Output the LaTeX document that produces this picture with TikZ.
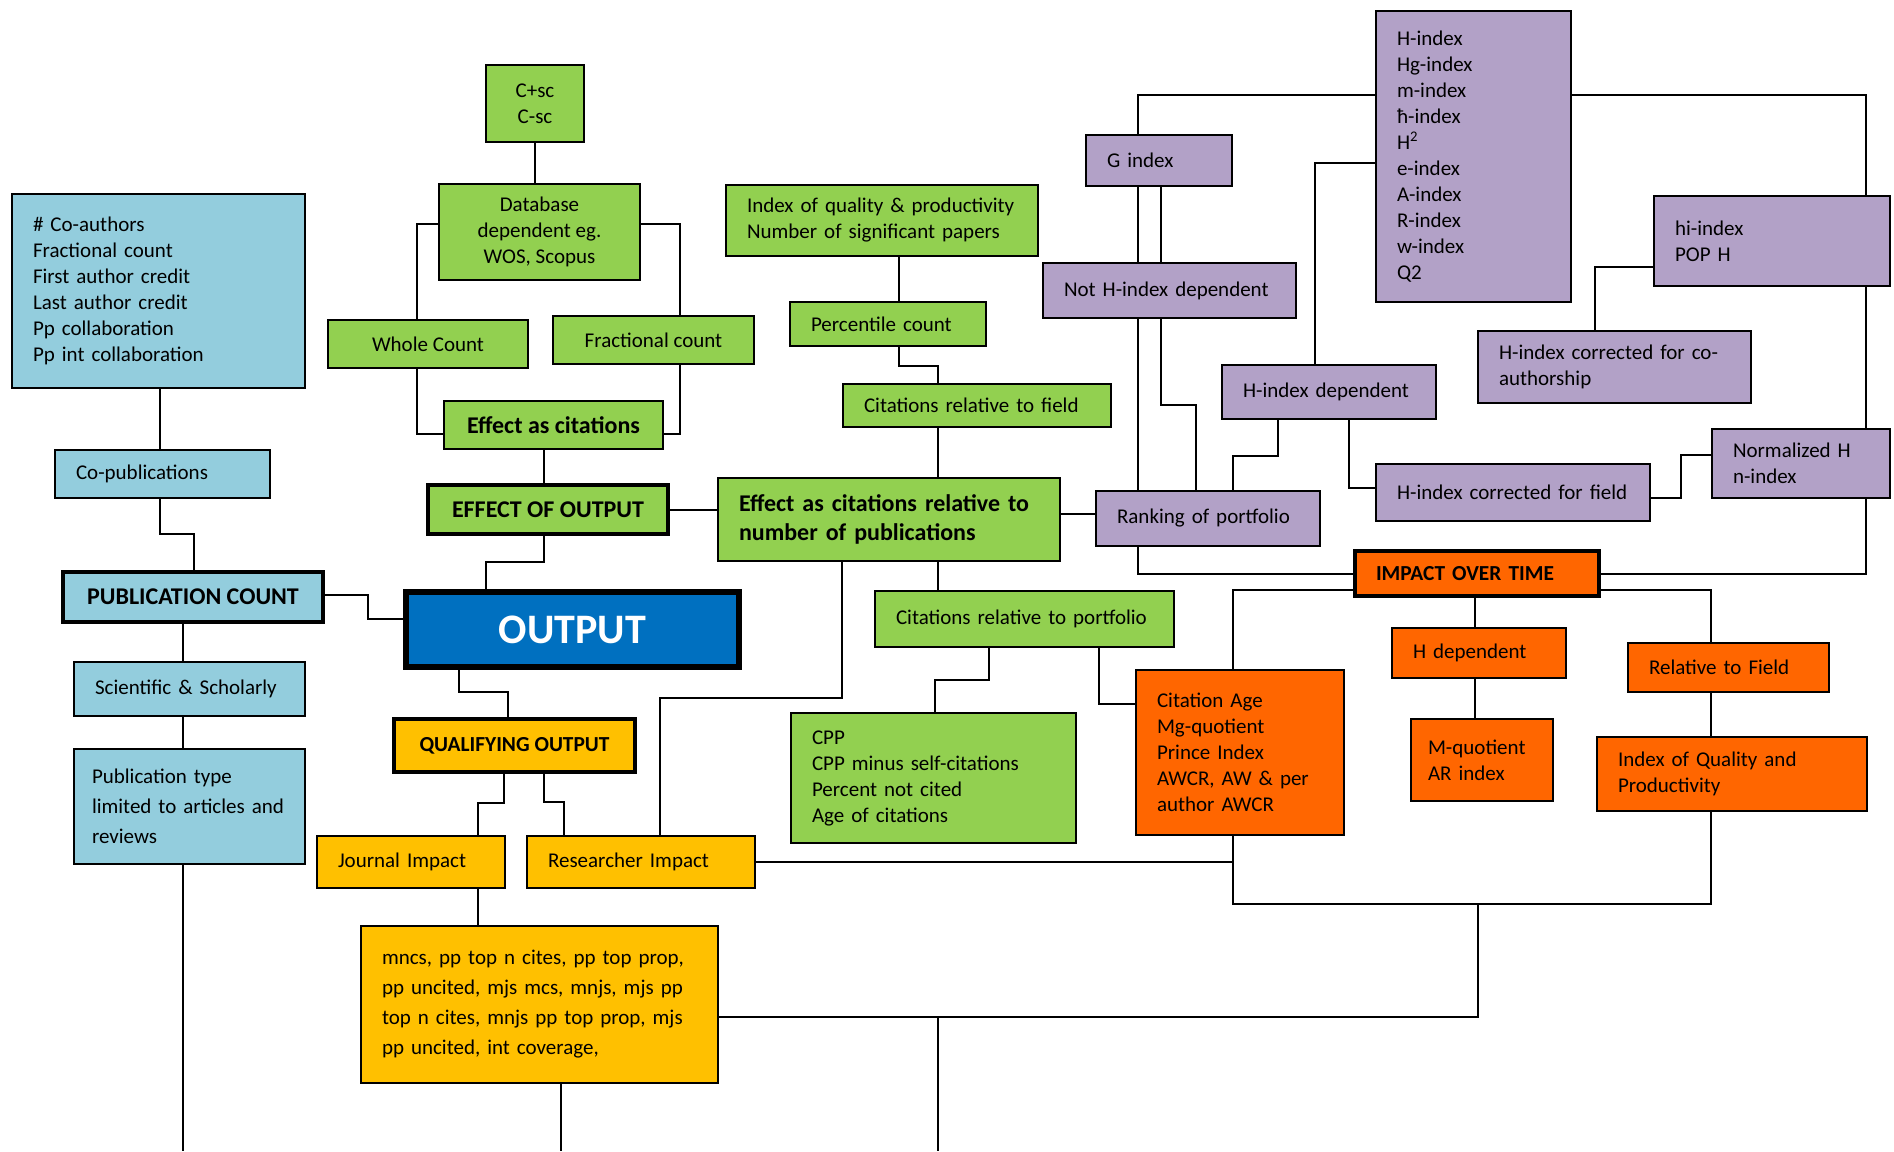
\documentclass[tikz,border=0pt]{standalone}
\usepackage{fontspec}
\setmainfont{Carlito}
\exhyphenpenalty=10000
\hyphenpenalty=10000
\definecolor{cyanfill}{HTML}{93CDDD}
\definecolor{greenfill}{HTML}{92D050}
\definecolor{lilacfill}{HTML}{B2A1C7}
\definecolor{orangefill}{HTML}{FF6600}
\definecolor{goldfill}{HTML}{FFC000}
\definecolor{outputfill}{HTML}{0070C0}
\begin{document}
\begin{tikzpicture}[x=0.5pt,y=-0.5pt,
	cell/.style={draw=black,line width=1.1pt,inner xsep=10.5pt,inner ysep=1pt,align=left,font=\fontsize{10.5}{13}\selectfont},
	heavy/.style={line width=2.3pt},
	bold/.style={font=\fontsize{12}{14.5}\selectfont\bfseries},
	link/.style={line width=1pt}]
	\useasboundingbox (0,0) rectangle (1894,1151);
	% Publication count (blue)
	\node[cell,fill=cyanfill,text width=125.5pt,minimum height=97pt] (coauth) at (158.5,291)
		{\# Co-authors\\Fractional count\\First author credit\\Last author credit\\Pp collaboration\\Pp int collaboration};
	\node[cell,fill=cyanfill,text width=86.5pt,minimum height=24pt] (copub) at (162.5,474) {Co-publications};
	\node[cell,heavy,bold,fill=cyanfill,minimum width=130pt,minimum height=25pt] (pubcount) at (193,597) {PUBLICATION COUNT};
	\node[cell,fill=cyanfill,text width=94.5pt,minimum height=27pt] (scholarly) at (189.5,689) {Scientific \& Scholarly};
	\node[cell,fill=cyanfill,inner xsep=9pt,text width=97.5pt,minimum height=57.5pt,font=\fontsize{10.5}{15}\selectfont] (pubtype) at (189.5,806.5)
		{Publication type\\limited to articles and\\reviews};
	% Output
	\node[cell,line width=2.6pt,fill=outputfill,text=white,minimum width=166.5pt,minimum height=37.5pt,font=\fontsize{21}{24}\selectfont\bfseries] (output) at (572.5,629.5) {OUTPUT};
	% Effect of output (green)
	\node[cell,align=center,fill=greenfill,minimum width=49pt,minimum height=38.5pt] (csc) at (535,103.5) {C+sc\\C-sc};
	\node[cell,align=center,fill=greenfill,minimum width=100.5pt,minimum height=48pt] (database) at (539.5,232) {Database\\dependent eg.\\WOS, Scopus};
	\node[cell,fill=greenfill,minimum width=100pt,minimum height=24pt] (whole) at (428,344) {Whole Count};
	\node[cell,fill=greenfill,minimum width=100.5pt,minimum height=24pt] (fraccount) at (653.5,340) {Fractional count};
	\node[cell,bold,fill=greenfill,minimum width=109.5pt,minimum height=24pt] (effcit) at (553.5,425) {Effect as citations};
	\node[cell,heavy,bold,fill=greenfill,minimum width=120pt,minimum height=24.5pt] (effout) at (548,509.5) {EFFECT OF OUTPUT};
	\node[cell,fill=greenfill,text width=135pt,minimum height=35.5pt] (quality) at (882,220.5) {Index of quality \& productivity\\Number of significant papers};
	\node[cell,fill=greenfill,text width=77pt,minimum height=22pt] (percentile) at (888,324) {Percentile count};
	\node[cell,fill=greenfill,text width=113pt,minimum height=21.5pt] (citfield) at (977,405.5) {Citations relative to field};
	\node[cell,bold,fill=greenfill,text width=150pt,minimum height=41.5pt] (effrel) at (889,519.5) {Effect as citations relative to\\number of publications};
	\node[cell,fill=greenfill,text width=128.5pt,minimum height=28pt] (citport) at (1024.5,619) {Citations relative to portfolio};
	\node[cell,fill=greenfill,text width=121.5pt,minimum height=65pt] (cpp) at (933.5,778) {CPP\\CPP minus self-citations\\Percent not cited\\Age of citations};
	% Ranking of portfolio (purple)
	\node[cell,fill=lilacfill,text width=76.5pt,minimum height=145.5pt] (hlist) at (1473.5,156.5)
		{H-index\\Hg-index\\m-index\\ħ-index\\H\textsuperscript{2}\\e-index\\A-index\\R-index\\w-index\\Q2};
	\node[cell,fill=lilacfill,text width=52pt,minimum height=25.5pt] (gindex) at (1159,160.5) {G index};
	\node[cell,fill=lilacfill,text width=105.5pt,minimum height=27.5pt] (noth) at (1169.5,290.5) {Not H-index dependent};
	\node[cell,fill=lilacfill,text width=97pt,minimum height=45pt] (hiindex) at (1772,241) {hi-index\\POP H};
	\node[cell,fill=lilacfill,text width=115.5pt,minimum height=36pt] (coauthh) at (1614.5,367) {H-index corrected for co-\\authorship};
	\node[cell,fill=lilacfill,text width=86pt,minimum height=27pt] (hdep) at (1329,392) {H-index dependent};
	\node[cell,fill=lilacfill,text width=68pt,minimum height=34.5pt] (normh) at (1801,463.5) {Normalized H\\n-index};
	\node[cell,fill=lilacfill,text width=116pt,minimum height=28.5pt] (hfield) at (1513,492.5) {H-index corrected for field};
	\node[cell,fill=lilacfill,text width=91pt,minimum height=27.5pt] (ranking) at (1208,518.5) {Ranking of portfolio};
	% Impact over time (orange)
	\node[cell,heavy,fill=orangefill,text width=101pt,minimum height=22.5pt,font=\fontsize{10.7}{13}\selectfont\bfseries] (impact) at (1477,573.5) {IMPACT OVER TIME};
	\node[cell,fill=orangefill,text width=66pt,minimum height=25pt] (hdepo) at (1479,653) {H dependent};
	\node[cell,fill=orangefill,text width=79.5pt,minimum height=24.5pt] (relfield) at (1728.5,667.5) {Relative to Field};
	\node[cell,fill=orangefill,text width=83pt,minimum height=82.5pt] (citage) at (1240,752.5)
		{Citation Age\\Mg-quotient\\Prince Index\\AWCR, AW \& per\\author AWCR};
	\node[cell,fill=orangefill,inner xsep=8.5pt,text width=54pt,minimum height=41pt] (mquot) at (1482,760) {M-quotient\\AR index};
	\node[cell,fill=orangefill,text width=114pt,minimum height=37pt] (iqp) at (1732,774) {Index of Quality and\\Productivity};
	% Qualifying output (yellow)
	\node[cell,heavy,fill=goldfill,minimum width=120.5pt,minimum height=26.5pt,font=\fontsize{10.7}{13}\selectfont\bfseries] (qualify) at (514.5,745.5) {QUALIFYING OUTPUT};
	\node[cell,fill=goldfill,text width=73pt,minimum height=26pt] (journal) at (411,862) {Journal Impact};
	\node[cell,fill=goldfill,text width=93pt,minimum height=26pt] (researcher) at (641,862) {Researcher Impact};
	\node[cell,fill=goldfill,text width=157.5pt,minimum height=78.5pt,font=\fontsize{10.5}{15}\selectfont] (mncs) at (539.5,1004.5)
		{mncs, pp top n cites, pp top prop,\\pp uncited, mjs mcs, mnjs, mjs pp\\top n cites, mnjs pp top prop, mjs\\pp uncited, int coverage,};
	% free ends
	\coordinate (endA) at (183,1151);
	\coordinate (endB) at (561,1151);
	\coordinate (endC) at (938,1151);
	\coordinate (tapC) at (938,1017);
	\coordinate (loopTap) at (1478,904);
	\coordinate (loopJoin) at (1233,863);
	% links: publication count
	\draw[link] (coauth.south -| 160,0) -- (copub.north -| 160,0);
	\draw[link] (copub.south -| 160,0) |- (194,534) -- (pubcount.north -| 194,0);
	\draw[link] (pubcount.east |- 0,595) -| (368,619) -- (output.west |- 0,619);
	\draw[link] (pubcount.south -| 183,0) -- (scholarly.north -| 183,0);
	\draw[link] (scholarly.south -| 183,0) -- (pubtype.north -| 183,0);
	\draw[link] (pubtype.south -| 183,0) -- (endA);
	% links: effect of output
	\draw[link] (csc.south) -- (database.north -| csc.south);
	\draw[link] (database.west |- 0,224) -| (whole.north -| 417,0);
	\draw[link] (database.east |- 0,224) -| (fraccount.north -| 680,0);
	\draw[link] (whole.south -| 417,0) |- (effcit.west |- 0,434);
	\draw[link] (fraccount.south -| 680,0) |- (effcit.east |- 0,434);
	\draw[link] (effcit.south -| 544,0) -- (effout.north -| 544,0);
	\draw[link] (effout.south -| 544,0) |- (486,562) -- (output.north -| 486,0);
	\draw[link] (effout.east) -- (effrel.west |- effout.east);
	\draw[link] (quality.south -| 899,0) -- (percentile.north -| 899,0);
	\draw[link] (percentile.south -| 899,0) |- (937.5,366) -- (citfield.north -| 937.5,0);
	\draw[link] (citfield.south -| 937.5,0) -- (effrel.north -| 937.5,0);
	\draw[link] (effrel.south -| 938,0) -- (citport.north -| 938,0);
	\draw[link] (effrel.south -| 842,0) |- (660,698) -- (researcher.north -| 660,0);
	\draw[link] (citport.south -| 989,0) |- (935,680) -- (cpp.north -| 935,0);
	\draw[link] (citport.south -| 1099,0) |- (citage.west |- 0,704);
	\draw[link] (effrel.east |- 0,514) -- (ranking.west |- 0,514);
	% links: ranking of portfolio
	\draw[link] (hlist.west |- 0,95) -| (gindex.north -| 1137.5,0);
	\draw[link] (gindex.south -| 1137.5,0) -- (noth.north -| 1137.5,0);
	\draw[link] (gindex.south -| 1161,0) -- (noth.north -| 1161,0);
	\draw[link] (noth.south -| 1137.5,0) -- (ranking.north -| 1137.5,0);
	\draw[link] (noth.south -| 1161,0) |- (1196,405) -- (ranking.north -| 1196,0);
	\draw[link] (hlist.west |- 0,163.4) -| (hdep.north -| 1315,0);
	\draw[link] (hdep.south -| 1278,0) |- (1232.6,456) -- (ranking.north -| 1232.6,0);
	\draw[link] (hdep.south -| 1348.5,0) |- (hfield.west |- 0,488);
	\draw[link] (hlist.east |- 0,95) -| (hiindex.north -| 1866,0);
	\draw[link] (hiindex.west |- 0,267) -| (coauthh.north -| 1595,0);
	\draw[link] (hiindex.south -| 1866,0) -- (normh.north -| 1866,0);
	\draw[link] (hfield.east |- 0,497.5) -| (1681,455.4) -- (normh.west |- 0,455.4);
	% links: impact over time
	\draw[link] (normh.south -| 1866,0) |- (impact.east);
	\draw[link] (ranking.south -| 1137.5,0) |- (impact.west);
	\draw[link] (impact.west |- 0,590) -| (citage.north -| 1233,0);
	\draw[link] (impact.east |- 0,590) -| (relfield.north -| 1711,0);
	\draw[link] (impact.south -| 1475,0) -- (hdepo.north -| 1475,0);
	\draw[link] (hdepo.south -| 1475,0) -- (mquot.north -| 1475,0);
	\draw[link] (relfield.south -| 1711,0) -- (iqp.north -| 1711,0);
	\draw[link] (citage.south -| 1233,0) |- (1711,904) -- (iqp.south -| 1711,0);
	% links: qualifying output
	\draw[link] (output.south -| 458.5,0) |- (508,692) -- (qualify.north -| 508,0);
	\draw[link] (qualify.south -| 504,0) |- (477.5,803) -- (journal.north -| 477.5,0);
	\draw[link] (qualify.south -| 544,0) |- (564,802) -- (researcher.north -| 564,0);
	\draw[link] (journal.south -| 477.5,0) -- (mncs.north -| 477.5,0);
	\draw[link] (researcher.east) -- (researcher.east -| loopJoin);
	\draw[link] (mncs.east |- 0,1017) -| (loopTap);
	\draw[link] (tapC) -- (endC);
	\draw[link] (mncs.south -| 561,0) -- (endB);
\end{tikzpicture}
\end{document}
